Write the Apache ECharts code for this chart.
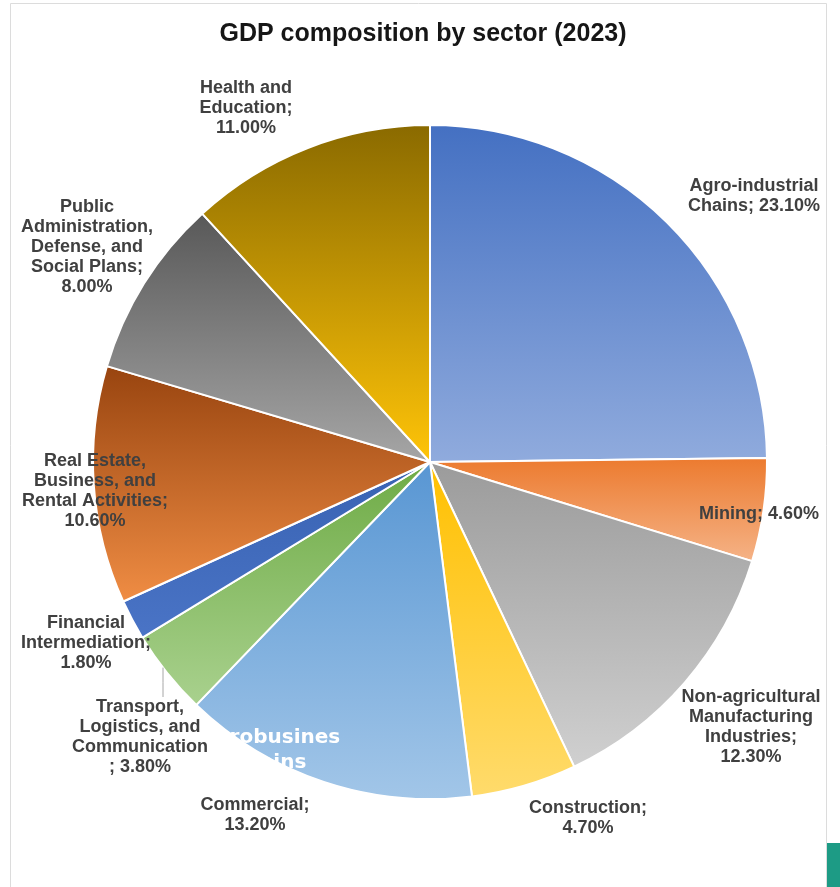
<!DOCTYPE html>
<html>
<head>
<meta charset="utf-8">
<script src="https://cdn.jsdelivr.net/npm/echarts@6/dist/echarts.min.js"></script>
<style>
  html, body { margin: 0; padding: 0; background: #fff; }
  #main { width: 840px; height: 887px; }
</style>
</head>
<body>
<div id="main"></div>
<script>
// sectors, clockwise from 12 o'clock
var sectors = [
  'Agro-industrial Chains',
  'Mining',
  'Non-agricultural Manufacturing Industries',
  'Construction',
  'Commercial',
  'Transport, Logistics, and Communication',
  'Financial Intermediation',
  'Real Estate, Business, and Rental Activities',
  'Public Administration, Defense, and Social Plans',
  'Health and Education'
];
var shares = [23.10, 4.60, 12.30, 4.70, 13.20, 3.80, 1.80, 10.60, 8.00, 11.00];

// how each label is wrapped in the picture
var labelText = [
  'Agro-industrial\nChains; 23.10%',
  'Mining; 4.60%',
  'Non-agricultural\nManufacturing\nIndustries;\n12.30%',
  'Construction;\n4.70%',
  'Commercial;\n13.20%',
  'Transport,\nLogistics, and\nCommunication\n; 3.80%',
  'Financial\nIntermediation;\n1.80%',
  'Real Estate,\nBusiness, and\nRental Activities;\n10.60%',
  'Public\nAdministration,\nDefense, and\nSocial Plans;\n8.00%',
  'Health and\nEducation;\n11.00%'
];

// colours (top -> bottom of each slice)
var topColors = ['#4470c2', '#ec7a2e', '#9b9b9b', '#ffc000', '#5896d3', '#6eab45', '#3862b2', '#98440f', '#585858', '#8a6a00'];
var botColors = ['#90abdd', '#f5b387', '#d0d0d0', '#ffdb6c', '#a2c6e8', '#a9d18e', '#4a74c6', '#f08d44', '#a6a6a6', '#ffc408'];

// label centre positions (px)
var labelPos = [
  [754, 196], [759, 514], [751, 727], [588, 818], [255, 815],
  [140, 737], [86, 643], [95, 491], [87, 247], [246, 108]
];

var CX = 430, CY = 462, R = 337;

var myChart = echarts.init(document.getElementById('main'));

var sliceData = shares.map(function (v, i) {
  return {
    name: sectors[i],
    value: v,
    itemStyle: {
      color: new echarts.graphic.LinearGradient(0, 0, 0, 1, [
        { offset: 0, color: topColors[i] },
        { offset: 1, color: botColors[i] }
      ])
    }
  };
});

// same values again, invisible, only carrying the labels (drawn above the overlay text)
var labelData = shares.map(function (v, i) {
  return { name: sectors[i], value: v };
});

var font = 'Liberation Sans, Arial, sans-serif';

var option = {
  backgroundColor: '#ffffff',
  animation: false,
  title: {
    text: 'GDP composition by sector (2023)',
    left: 418,
    top: 17,
    textAlign: 'center',
    textStyle: {
      fontFamily: font,
      fontSize: 25,
      fontWeight: 'bold',
      color: '#161616'
    }
  },
  graphic: [
    {
      type: 'rect',
      shape: { x: 10.5, y: 3.5, width: 816, height: 900 },
      style: { fill: 'none', stroke: '#dcdcdc', lineWidth: 1 },
      z: 0
    },
    {
      type: 'rect',
      shape: { x: 827, y: 843, width: 13, height: 44 },
      style: { fill: '#1d9b85' },
      z: 0
    },
    {
      type: 'text',
      z: 3,
      silent: true,
      style: {
        x: 270, y: 738,
        text: 'Agrobusines',
        fill: '#ffffff',
        font: 'bold 20px "DejaVu Sans", sans-serif',
        align: 'center',
        verticalAlign: 'middle'
      }
    },
    {
      type: 'text',
      z: 3,
      silent: true,
      style: {
        x: 270, y: 763,
        text: 'chains',
        fill: '#ffffff',
        font: 'bold 20px "DejaVu Sans", sans-serif',
        align: 'center',
        verticalAlign: 'middle'
      }
    }
  ],
  series: [
    {
      type: 'pie',
      z: 2,
      center: [CX, CY],
      radius: R,
      startAngle: 90,
      clockwise: true,
      data: sliceData,
      itemStyle: { borderColor: '#ffffff', borderWidth: 2 },
      label: { show: false },
      labelLine: { show: false },
      silent: true
    },
    {
      type: 'pie',
      z: 4,
      center: [CX, CY],
      radius: R,
      startAngle: 90,
      clockwise: true,
      avoidLabelOverlap: false,
      silent: true,
      data: labelData,
      itemStyle: { color: 'rgba(0,0,0,0)', borderWidth: 0 },
      label: {
        show: true,
        position: 'outside',
        formatter: function (p) { return labelText[p.dataIndex]; },
        fontFamily: font,
        fontSize: 18,
        fontWeight: 'bold',
        lineHeight: 20,
        color: '#404040',
        align: 'center'
      },
      labelLine: { show: false },
      labelLayout: function (params) {
        var i = params.dataIndex;
        var p = labelPos[i];
        var res = { x: p[0], y: p[1], align: 'center', verticalAlign: 'middle' };
        if (i === 5) {
          // short vertical leader from the slice rim down to the label
          var lx = 163;
          var ry = CY + Math.sqrt(R * R - (lx - CX) * (lx - CX));
          var ly = p[1] - 40;
          res.labelLinePoints = [[lx, ry], [lx, (ry + ly) / 2], [lx, ly]];
        }
        return res;
      }
    }
  ]
};
// the transport label keeps its leader line
option.series[1].data[5].labelLine = { show: true, lineStyle: { color: '#a6a6a6', width: 1 } };

myChart.setOption(option);
</script>
</body>
</html>
